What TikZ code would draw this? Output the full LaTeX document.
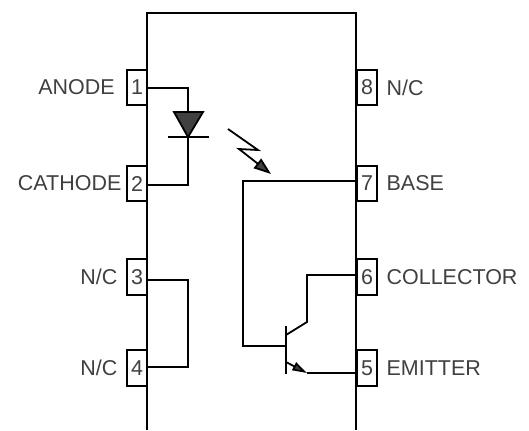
\documentclass[tikz,border=0pt]{standalone}
\usepackage{fontspec}
\setmainfont{Liberation Sans}
\usepackage{xcolor}
\usetikzlibrary{positioning,arrows.meta}
\definecolor{inkgray}{HTML}{404040}

\begin{document}
\begin{tikzpicture}[
    x=0.75pt, y=-0.75pt,
    wire/.style={draw=black, line width=1.35pt},
    pinbox/.style={rectangle, draw=black, line width=1.35pt, fill=white, text=inkgray, font=\fontsize{16.1}{18}\selectfont, inner sep=0pt, outer sep=0pt, minimum width=15.5pt, minimum height=26.5pt},
    pinlabel/.style={text=inkgray, font=\fontsize{16.1}{18}\selectfont, inner sep=0pt, outer sep=0pt},
    headtip/.style 2 args={-{Triangle[length=#1, width=#2, fill=inkgray]}}
]
\useasboundingbox (0,0) rectangle (529,430);
\coordinate (bottomleft) at (147,430);
\coordinate (topleft) at (147,13);
\coordinate (topright) at (356,13);
\coordinate (bottomright) at (356,430);
% pins
\node[pinbox](pin1) at (137,87.5){1};
\node[pinbox](pin2) at (137,183.5){2};
\node[pinbox](pin3) at (137,277){3};
\node[pinbox](pin4) at (137,368){4};
\node[pinbox](pin8) at (367,87.5){8};
\node[pinbox](pin7) at (367,183.5){7};
\node[pinbox](pin6) at (367,277){6};
\node[pinbox](pin5) at (367,368){5};
\draw[wire] (bottomleft) -- (topleft) -- (topright) -- (bottomright);
% labels
\node[pinlabel](anode)[left=9pt of pin1.west]{ANODE};
\node[pinlabel](cathode)[left=4pt of pin2.west]{CATHODE};
\node[pinlabel](nc3)[left=7pt of pin3.west]{N/C};
\node[pinlabel](nc4)[left=7pt of pin4.west]{N/C};
\node[pinlabel](nc8)[right=7pt of pin8.east]{N/C};
\node[pinlabel](base)[right=7pt of pin7.east]{BASE};
\node[pinlabel](collector)[right=7pt of pin6.east]{COLLECTOR};
\node[pinlabel](emitter)[right=7pt of pin5.east]{EMITTER};
% diode
\coordinate (diodetop) at (188,112);
\coordinate (diodetip) at (188,137);
\coordinate (barleft) at (168,137);
\coordinate (barright) at (209,137);
\draw[wire, fill=inkgray, line join=miter] (174,112) -- (203,112) -- (diodetip) -- cycle;
\draw[wire] (barleft) -- (barright);
\draw[wire] ([yshift=-0.4pt]pin1.east) -| (diodetop);
\draw[wire] ([yshift=-1pt]pin2.east) -| (diodetip);
% light
\coordinate (ray1) at (228,129);
\coordinate (ray2) at (258,150);
\coordinate (ray3) at (239,149);
\coordinate (ray4) at (271,174);
\draw[wire, headtip={13pt}{9pt}] (ray1) -- (ray2) -- (ray3) -- (ray4);
% link 3 to 4
\draw[wire] ([yshift=-2.2pt]pin3.east) -- ++(41,0) |- ([yshift=0.7pt]pin4.east);
% transistor
\coordinate (bartop) at (286,326);
\coordinate (barbottom) at (286,374);
\coordinate (basepoint) at (286,346);
\coordinate (collin) at (286,335);
\coordinate (collknee) at (307,322);
\coordinate (emitin) at (286,362);
\coordinate (emitknee) at (307,373);
\draw[wire] (bartop) -- (barbottom);
\draw[wire] ([yshift=1.9pt]pin7.west) -- ++(-114,0) |- (basepoint);
\draw[wire] (collin) -- (collknee) |- ([yshift=1.5pt]pin6.west);
\draw[wire, headtip={11pt}{6.5pt}] (emitin) -- (emitknee);
\draw[wire] (emitknee) -- ([yshift=-3.7pt]pin5.west);
\end{tikzpicture}
\end{document}
